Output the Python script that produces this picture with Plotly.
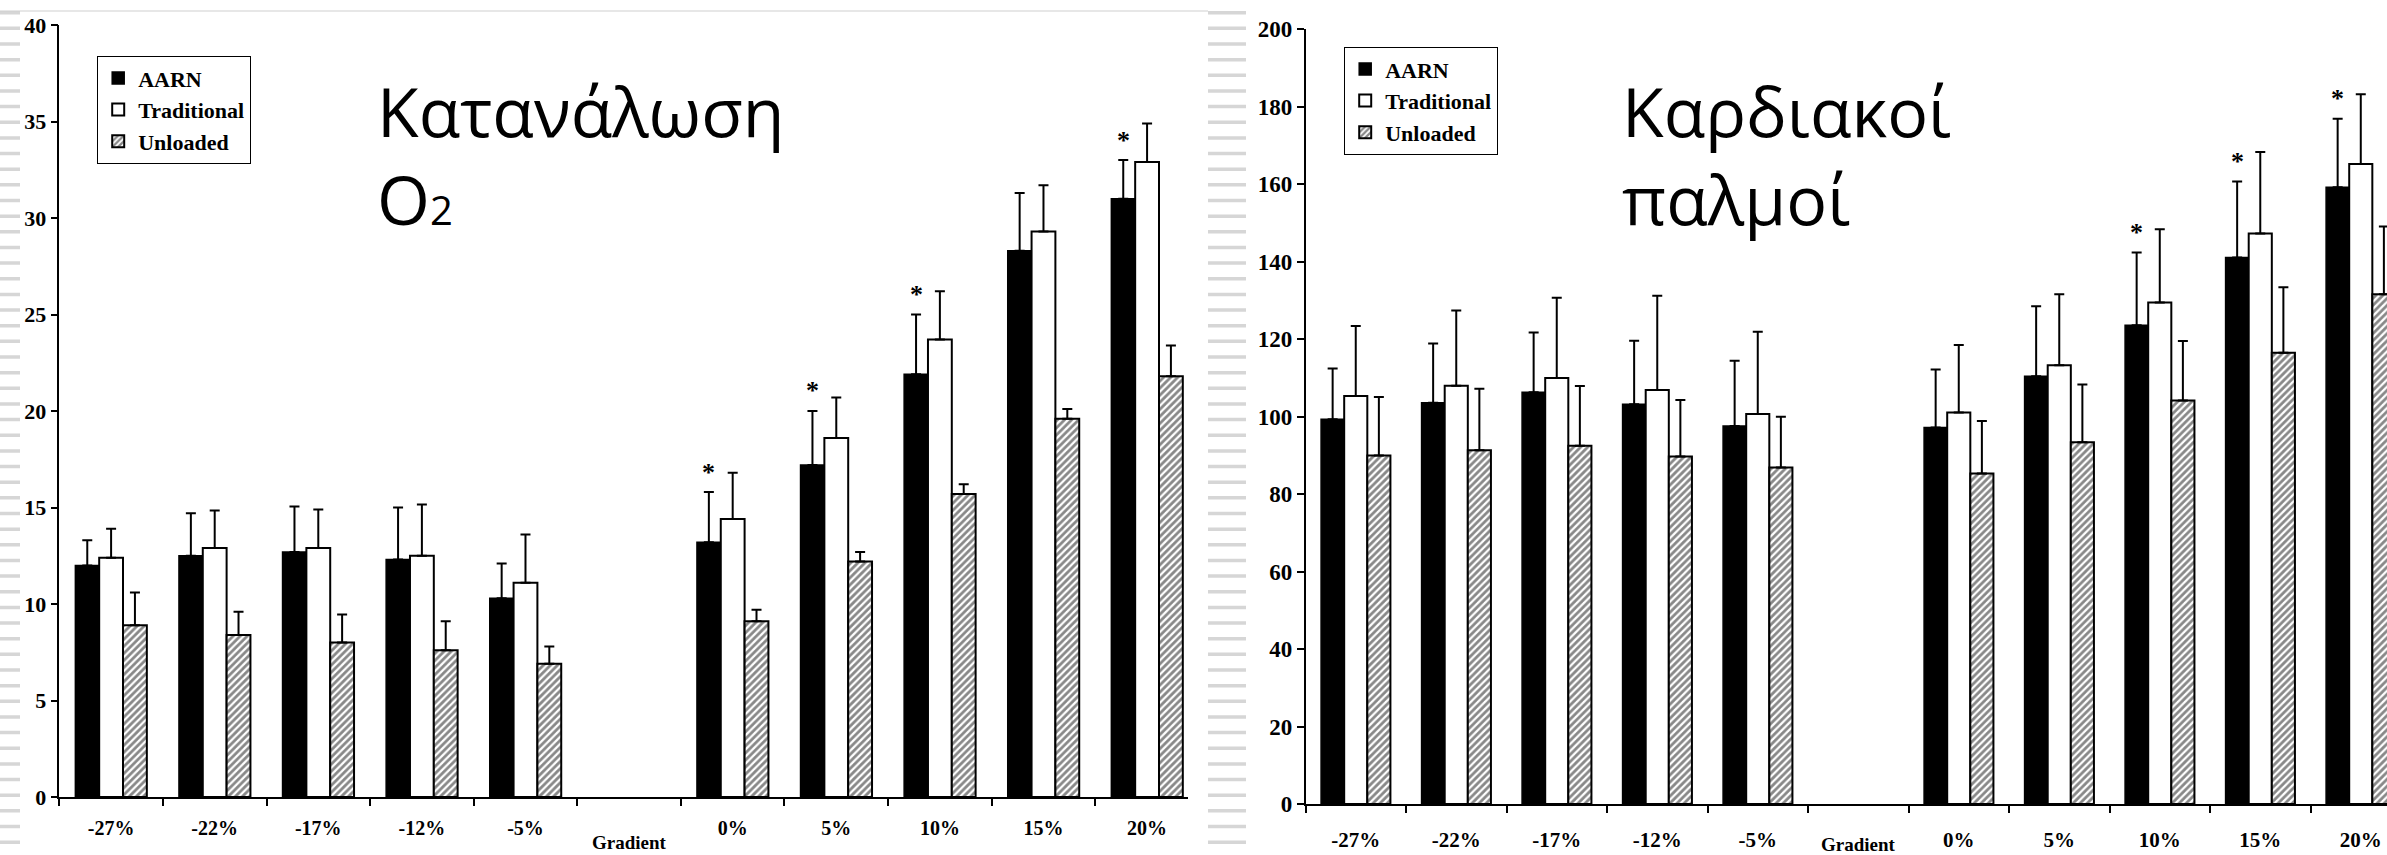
import plotly.graph_objects as go

# ---------------- data ----------------
categories = ["-27%", "-22%", "-17%", "-12%", "-5%", "Gradient", "0%", "5%", "10%", "15%", "20%"]
series_names = ["AARN", "Traditional", "Unloaded"]

# Left chart: O2 consumption
aarn_o2 = [12.0, 12.5, 12.7, 12.3, 10.3, None, 13.2, 17.2, 21.9, 28.3, 31.0]
trad_o2 = [12.4, 12.9, 12.9, 12.5, 11.1, None, 14.4, 18.6, 23.7, 29.3, 32.9]
unl_o2 = [8.9, 8.4, 8.0, 7.6, 6.9, None, 9.1, 12.2, 15.7, 19.6, 21.8]
aarn_o2_err = [1.3, 2.2, 2.35, 2.7, 1.8, None, 2.6, 2.8, 3.1, 3.0, 2.0]
trad_o2_err = [1.5, 1.95, 2.0, 2.65, 2.5, None, 2.4, 2.1, 2.5, 2.4, 2.0]
unl_o2_err = [1.7, 1.2, 1.45, 1.5, 0.9, None, 0.6, 0.5, 0.5, 0.5, 1.6]
star_o2 = [False, False, False, False, False, False, True, True, True, False, True]

# Right chart: heart rate
aarn_hr = [99.3, 103.6, 106.3, 103.2, 97.6, None, 97.2, 110.4, 123.6, 141.1, 159.2]
trad_hr = [105.3, 108.0, 110.0, 106.9, 100.7, None, 101.1, 113.3, 129.5, 147.3, 165.2]
unl_hr = [90.0, 91.3, 92.5, 89.7, 86.9, None, 85.3, 93.4, 104.2, 116.5, 131.6]
aarn_hr_err = [13.1, 15.3, 15.4, 16.4, 16.8, None, 15.0, 18.1, 18.8, 19.6, 17.7]
trad_hr_err = [18.1, 19.4, 20.7, 24.3, 21.2, None, 17.4, 18.3, 18.9, 21.0, 18.0]
unl_hr_err = [15.1, 15.9, 15.4, 14.6, 13.1, None, 13.6, 14.9, 15.3, 16.9, 17.5]
star_hr = [False, False, False, False, False, False, False, False, True, True, True]

title_left = "Κατανάλωση<br>O<span style='font-size:40px'>2</span>"
title_right = "Καρδιακοί<br>παλμοί"
y_left_ticks = [0, 5, 10, 15, 20, 25, 30, 35, 40]
y_right_ticks = [0, 20, 40, 60, 80, 100, 120, 140, 160, 180, 200]

# ---------------- layout constants ----------------
W, H = 2387, 855
BARGAP = 0.31
SERIF = "Liberation Serif"
TITLE_FONT = "Open Sans"


def px_x(p):
    return p / W


def px_y(p):
    return 1 - p / H


styles = [
    dict(marker=dict(color="black", line=dict(color="black", width=1.5))),
    dict(marker=dict(color="white", line=dict(color="black", width=2))),
    dict(marker=dict(color="white", line=dict(color="black", width=2),
                     pattern=dict(shape="/", fgcolor="#111111", bgcolor="white",
                                  size=5, solidity=0.55))),
]

fig = go.Figure()


def add_chart(vals, errs, xa, ya, legend):
    for name, v, e, st in zip(series_names, vals, errs, styles):
        fig.add_trace(go.Bar(
            x=categories, y=v, name=name, xaxis=xa, yaxis=ya, legend=legend,
            marker=st["marker"],
            error_y=dict(type="data", symmetric=False, array=e,
                         arrayminus=[0 if x is not None else None for x in e],
                         color="black", thickness=2, width=5),
        ))


add_chart([aarn_o2, trad_o2, unl_o2], [aarn_o2_err, trad_o2_err, unl_o2_err], "x", "y", "legend")
add_chart([aarn_hr, trad_hr, unl_hr], [aarn_hr_err, trad_hr_err, unl_hr_err], "x2", "y2", "legend2")

bar_w = (1 - BARGAP) / 3
annotations = []
for xref, yref, vals, errs, stars in [("x", "y", aarn_o2, aarn_o2_err, star_o2),
                                      ("x2", "y2", aarn_hr, aarn_hr_err, star_hr)]:
    for i, s in enumerate(stars):
        if s:
            annotations.append(dict(
                x=i - bar_w, y=vals[i] + errs[i], xref=xref, yref=yref,
                text="*", showarrow=False, yanchor="middle", yshift=20,
                font=dict(family=SERIF, size=26, color="black", weight="bold")))

# "Gradient" labels
for xref, ypix in [("x", 842), ("x2", 844)]:
    annotations.append(dict(
        x=categories.index("Gradient"), y=px_y(ypix), xref=xref, yref="paper",
        text="Gradient", showarrow=False, yanchor="middle",
        font=dict(family=SERIF, size=19, color="black", weight="bold")))

# Titles (two lines each)
for text, xpix in [(title_left, 375), (title_right, 1620)]:
    annotations.append(dict(
        x=px_x(xpix), y=px_y(62), xref="paper", yref="paper",
        text=text, showarrow=False, xanchor="left", yanchor="top", align="left",
        font=dict(family=TITLE_FONT, size=68, color="black")))

# Decorative gray dashes and top rule
dash_ys = [12.7 + 15.65 * k for k in range(54)]
shapes = []
for x0, x1 in [(0, 20), (1208, 1246)]:
    path = " ".join(f"M{px_x(x0):.5f},{px_y(y):.5f} L{px_x(x1):.5f},{px_y(y):.5f}" for y in dash_ys)
    shapes.append(dict(type="path", xref="paper", yref="paper", path=path,
                       line=dict(color="#d6d6d6", width=3.5), layer="below"))
shapes.append(dict(type="line", xref="paper", yref="paper",
                   x0=0, x1=px_x(1208), y0=px_y(11), y1=px_y(11),
                   line=dict(color="#d0d0d0", width=1.2), layer="below"))

xaxis_common = dict(
    type="category", categoryorder="array", categoryarray=categories,
    tickmode="array", tickvals=categories,
    ticktext=[c if c != "Gradient" else "" for c in categories],
    tickson="boundaries", ticks="outside", ticklen=7, tickwidth=1.5, tickcolor="black",
    showline=True, linecolor="black", linewidth=1.5, showgrid=False, zeroline=False,
    automargin=False,
)
yaxis_common = dict(
    ticks="outside", ticklen=7, tickwidth=1.5, tickcolor="black",
    showline=True, linecolor="black", linewidth=1.5, showgrid=False, zeroline=False,
    tickmode="array", automargin=False,
)

legend_common = dict(
    bgcolor="white", bordercolor="black", borderwidth=1.2,
    font=dict(family=SERIF, size=22, color="black", weight="bold"),
    xanchor="left", yanchor="top", itemwidth=30, tracegroupgap=0,
    itemclick=False, itemdoubleclick=False,
)

fig.update_layout(
    width=W, height=H, margin=dict(l=0, r=0, t=0, b=0, pad=0, autoexpand=False),
    paper_bgcolor="white", plot_bgcolor="white",
    barmode="group", bargap=BARGAP, bargroupgap=0,
    showlegend=True,
    xaxis=dict(domain=[px_x(59.3), px_x(1188)], range=[-0.5, 10.395], anchor="y",
               tickfont=dict(family=SERIF, size=20, color="black", weight="bold"),
               ticklabelstandoff=12, **xaxis_common),
    yaxis=dict(domain=[px_y(797), px_y(25)], range=[0, 40], anchor="x",
               tickvals=y_left_ticks,
               tickfont=dict(family=SERIF, size=22, color="black", weight="bold"),
               **yaxis_common),
    xaxis2=dict(domain=[px_x(1305.5), 1.0], range=[-0.5, 10.261], anchor="y2",
                tickfont=dict(family=SERIF, size=21, color="black", weight="bold"),
                ticklabelstandoff=16, **xaxis_common),
    yaxis2=dict(domain=[px_y(804), px_y(29.3)], range=[0, 200], anchor="x2",
                tickvals=y_right_ticks,
                tickfont=dict(family=SERIF, size=23, color="black", weight="bold"),
                **yaxis_common),
    legend=dict(x=px_x(97), y=px_y(56), **legend_common),
    legend2=dict(x=px_x(1344), y=px_y(47), **legend_common),
    annotations=annotations,
    shapes=shapes,
)

fig.write_html(
    "out.html",
    config={"displayModeBar": False},
    post_script="document.body.style.margin='0';document.body.style.overflow='hidden';",
)
